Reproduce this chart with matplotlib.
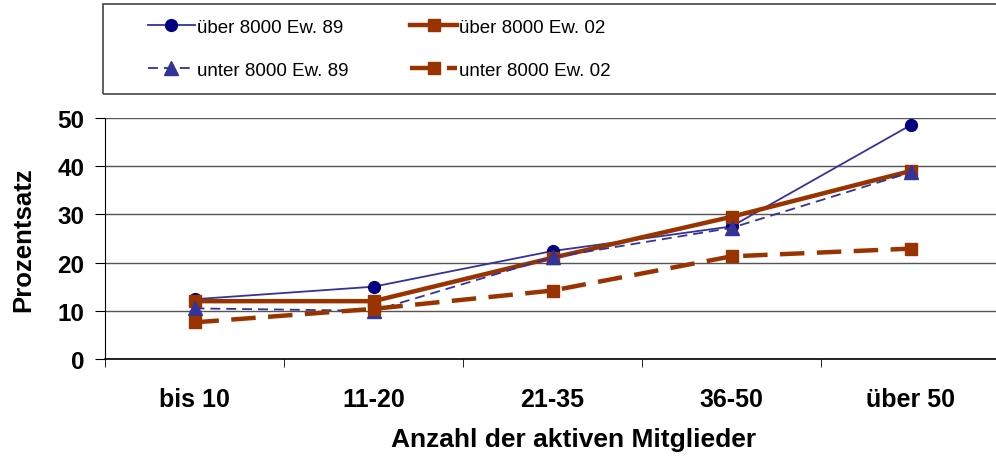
import matplotlib
matplotlib.use("Agg")
import matplotlib.pyplot as plt
from matplotlib.patches import Rectangle

categories = ["bis 10", "11-20", "21-35", "36-50", "über 50"]
ueber_89 = [12.4, 15.0, 22.4, 27.5, 48.5]
ueber_02 = [12.0, 12.0, 21.0, 29.5, 39.0]
unter_89 = [10.5, 10.0, 21.1, 27.2, 38.7]
unter_02 = [7.6, 10.4, 14.2, 21.3, 22.9]

plt.rcParams['font.family'] = ['Liberation Sans', 'DejaVu Sans']

fig = plt.figure(figsize=(9.96, 4.6), dpi=100)
ax = fig.add_axes([105/996, 1-360/460, 895/996, 241/460])

x = list(range(len(categories)))
l1, = ax.plot(x, ueber_89, '-', color='#333399', lw=1.3, marker='o', ms=8.5,
              mfc='#000080', mec='#000080', label='über 8000 Ew. 89')
l2, = ax.plot(x, ueber_02, '-', color='#993300', lw=3.2, marker='s', ms=8.5,
              mfc='#993300', mec='#993300', label='über 8000 Ew. 02')
l3, = ax.plot(x, unter_89, '--', color='#333399', lw=1.3, marker='^', ms=9.5,
              mfc='#333399', mec='#333399', dashes=(5.5, 3.3), label='unter 8000 Ew. 89')
l4, = ax.plot(x, unter_02, '--', color='#993300', lw=3.2, marker='s', ms=8.5,
              mfc='#993300', mec='#993300', dashes=(5.5, 2.8), label='unter 8000 Ew. 02')

ax.set_xlim(-0.5, 4.5)
ax.set_ylim(0, 50)
ax.set_yticks([0, 10, 20, 30, 40, 50])
ax.yaxis.grid(True, color='#555555', lw=1)
ax.set_axisbelow(True)
for s in ['top', 'right']:
    ax.spines[s].set_visible(False)
ax.spines['left'].set_color('black')
ax.spines['bottom'].set_color('black')
ax.spines['bottom'].set_linewidth(1.2)

ax.set_xticks(x)
ax.set_xticklabels(categories, fontsize=18, fontweight='bold')
ax.tick_params(axis='x', length=0, pad=20)
ax.set_xticks([-0.5, 0.5, 1.5, 2.5, 3.5], minor=True)
ax.tick_params(axis='x', which='minor', length=6, direction='out')
ax.tick_params(axis='y', length=7, direction='out', labelsize=17.5, pad=8)
for t in ax.get_yticklabels():
    t.set_fontweight('bold')

ax.set_xlabel("Anzahl der aktiven Mitglieder", fontsize=19, fontweight='bold',
              labelpad=12, x=0.524)
ax.set_ylabel("Prozentsatz", fontsize=18.5, fontweight='bold', labelpad=16)

fig.patches.append(Rectangle((103/996, 1-95/460), 900/996, 90/460,
                             transform=fig.transFigure, fill=False,
                             edgecolor='#444444', lw=1.2))
fig.legend(handles=[l1, l3, l2, l4], ncol=2, frameon=False, fontsize=13.5,
           loc='center left', bbox_to_anchor=(148/996, 1-49.5/460),
           borderpad=0, borderaxespad=0,
           handlelength=2.5, handletextpad=0.1, columnspacing=3.3,
           labelspacing=1.38)

fig.savefig("out.png", dpi=100)
